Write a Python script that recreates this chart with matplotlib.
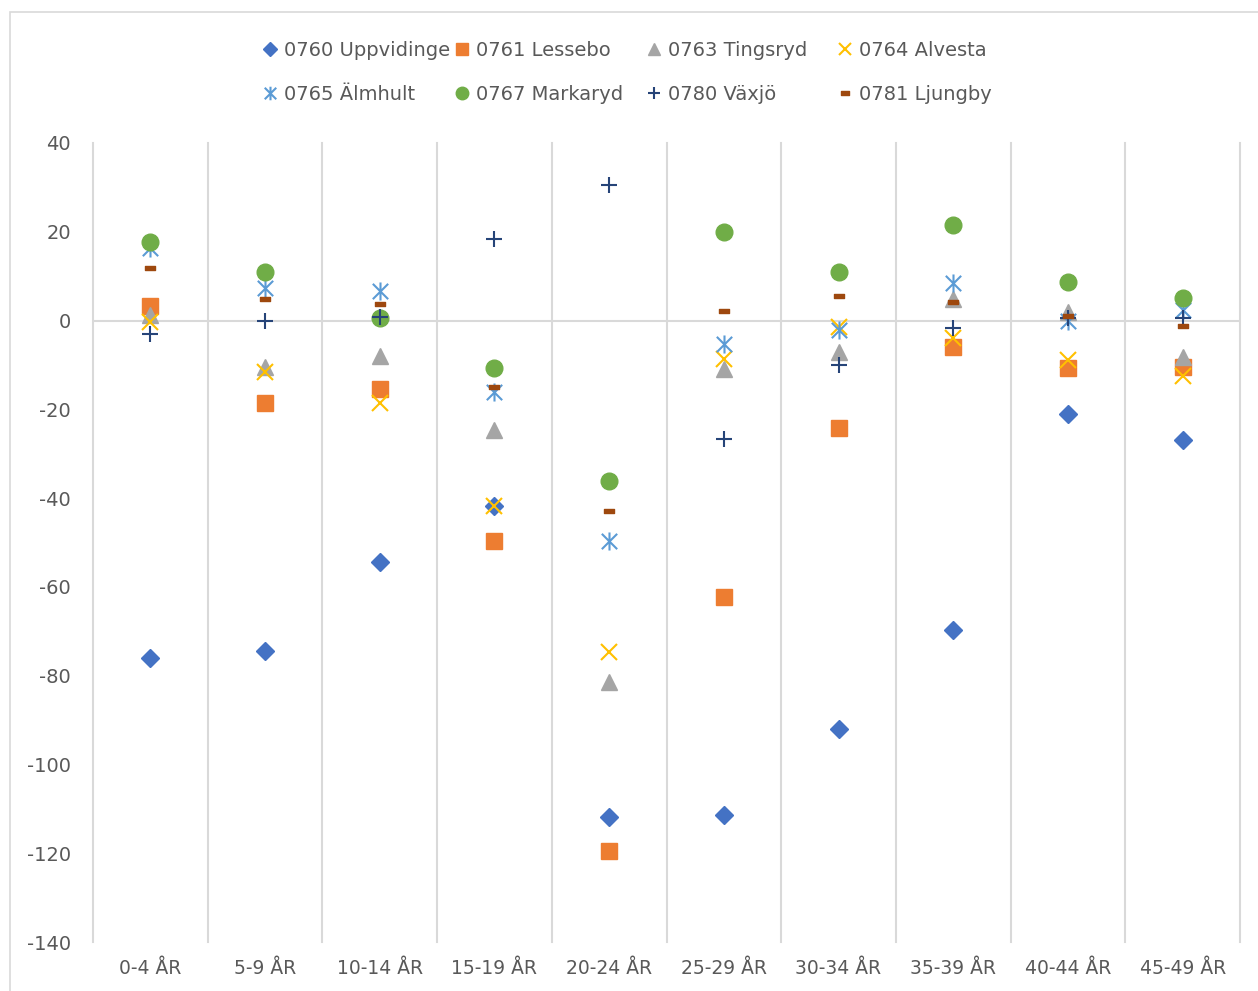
import matplotlib
matplotlib.use("Agg")
import matplotlib.pyplot as plt
from matplotlib.path import Path
from matplotlib.patches import Rectangle

plt.rcParams["axes.unicode_minus"] = False

categories = ["0-4 ÅR", "5-9 ÅR", "10-14 ÅR", "15-19 ÅR", "20-24 ÅR",
              "25-29 ÅR", "30-34 ÅR", "35-39 ÅR", "40-44 ÅR", "45-49 ÅR"]

uppvidinge = [-76.0, -74.5, -54.4, -41.8, -111.8, -111.4, -92.0, -69.7, -21.1, -26.9]
lessebo    = [3.3, -18.6, -15.5, -49.6, -119.5, -62.3, -24.1, -5.9, -10.6, -10.4]
tingsryd   = [1.2, -10.4, -8.0, -24.6, -81.4, -11.0, -7.0, 4.9, 2.0, -8.1]
alvesta    = [-0.3, -11.6, -18.5, -41.8, -74.6, -8.7, -1.4, -4.0, -8.9, -12.6]
almhult    = [16.3, 7.3, 6.7, -16.2, -49.6, -5.3, -2.1, 8.4, 0.0, 2.4]
markaryd   = [17.7, 10.9, 0.5, -10.8, -36.2, 19.9, 10.9, 21.5, 8.7, 5.0]
vaxjo      = [-3.1, -0.2, 0.9, 18.4, 30.5, -26.6, -10.0, -1.7, 0.5, 0.5]
ljungby    = [11.8, 4.9, 3.7, -14.9, -43.0, 2.2, 5.6, 4.1, 1.0, -1.2]

yticks = [40, 20, 0, -20, -40, -60, -80, -100, -120, -140]

TEXT = "#595959"
GRID = "#D9D9D9"

star_path = Path([(-0.85, -0.85), (0.85, 0.85), (-0.85, 0.85), (0.85, -0.85), (0, -1), (0, 1)],
                 [Path.MOVETO, Path.LINETO, Path.MOVETO, Path.LINETO, Path.MOVETO, Path.LINETO])
dash_path = Path([(-1, -0.4), (1, -0.4), (1, 0.4), (-1, 0.4), (-1, -0.4)],
                 [Path.MOVETO, Path.LINETO, Path.LINETO, Path.LINETO, Path.CLOSEPOLY])

series = [
    ("0760 Uppvidinge", uppvidinge, dict(marker="D", markersize=9, color="#4472C4")),
    ("0761 Lessebo", lessebo, dict(marker="s", markersize=12, color="#ED7D31")),
    ("0763 Tingsryd", tingsryd, dict(marker="^", markersize=12, color="#A5A5A5")),
    ("0764 Alvesta", alvesta, dict(marker="x", markersize=12, color="#FFC000", markeredgewidth=1.5)),
    ("0765 Älmhult", almhult, dict(marker=star_path, markersize=13, color="#5B9BD5",
                                   markerfacecolor="none", markeredgewidth=1.5)),
    ("0767 Markaryd", markaryd, dict(marker="o", markersize=12, color="#70AD47")),
    ("0780 Växjö", vaxjo, dict(marker="+", markersize=12, color="#264478", markeredgewidth=1.5)),
    ("0781 Ljungby", ljungby, dict(marker=dash_path, markersize=7.5, color="#9E480E")),
]

W, H = 1258, 991
fig = plt.figure(figsize=(W / 100, H / 100), dpi=100)
fig.patch.set_facecolor("white")

# outer chart border (left/top visible)
fig.add_artist(Rectangle((10 / W, -0.1), 1.2, (H - 12) / H + 0.1, transform=fig.transFigure,
                         fill=False, edgecolor=GRID, linewidth=1.2))

ax = fig.add_axes([93 / W, (H - 942) / H, (1240 - 93) / W, (942 - 143) / H])
x = list(range(len(categories)))
handles = []
for i, (name, vals, kw) in enumerate(series):
    kw = dict(kw)
    if "markeredgecolor" not in kw:
        kw["markeredgecolor"] = kw["color"]
    h, = ax.plot(x, vals, linestyle="none", label=name, zorder=3 + i, **kw)
    handles.append(h)

ax.set_xlim(-0.5, len(categories) - 0.5)
ax.set_ylim(-140, 40)
ax.set_yticks(yticks)
ax.set_xticks(x)
ax.set_xticklabels(categories)
for k in range(len(categories) + 1):
    ax.axvline(k - 0.5, color=GRID, linewidth=1.5, zorder=1, clip_on=False)
ax.grid(False)
ax.axhline(0, color=GRID, linewidth=1.5, zorder=1)
for s in ax.spines.values():
    s.set_visible(False)
ax.tick_params(axis="both", which="both", length=0)
ax.tick_params(axis="y", pad=16, labelsize=14, labelcolor=TEXT)
ax.tick_params(axis="x", pad=12, labelsize=13.5, labelcolor=TEXT)

# legend: four columns of two entries
col_x = [270, 462, 654, 845]
fs = 14
hl = 0.8
for c in range(4):
    hs = [handles[c], handles[c + 4]]
    fig.legend(handles=hs, labels=[h.get_label() for h in hs],
               loc="center left",
               bbox_to_anchor=((col_x[c] - hl * fs * 100 / 72 / 2) / W, 1 - 72.5 / H),
               frameon=False, fontsize=fs, handlelength=hl, handletextpad=0.32,
               labelspacing=1.3, borderpad=0, borderaxespad=0, labelcolor=TEXT,
               markerscale=0.75)

fig.savefig("out.png", dpi=100)
